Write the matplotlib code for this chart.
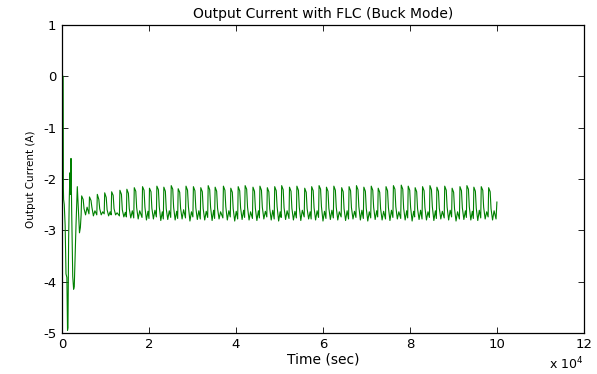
import numpy as np
import matplotlib
matplotlib.use('Agg')
import matplotlib.pyplot as plt

# start-up transient (time in units of 1e4 sec, current in A)
t_start = [0.025, 0.027, 0.03, 0.035, 0.05, 0.07, 0.09, 0.11, 0.125, 0.135, 0.15, 0.165,
           0.18, 0.19, 0.205, 0.22, 0.245, 0.265, 0.28, 0.30, 0.32, 0.35, 0.37, 0.40, 0.42]
i_start = [0.0, -1.1, -2.2, -2.4, -2.5, -2.9, -3.85, -3.92, -4.95, -4.9, -3.2, -2.4,
           -1.88, -2.3, -1.6, -2.6, -3.9, -4.15, -4.1, -3.5, -2.9, -2.15, -2.5, -3.05, -2.95]

# oscillation peaks (units of 1e4 sec)
peak_time = [0.45, 0.63, 0.81, 0.98, 1.14, 1.33, 1.49, 1.66, 1.85, 2.01,
             2.18, 2.34, 2.51, 2.67, 2.85, 3.02, 3.19, 3.36, 3.52, 3.71,
             3.88, 4.05, 4.21, 4.39, 4.55, 4.72, 4.89, 5.05, 5.23, 5.40,
             5.58, 5.74, 5.91, 6.08, 6.25, 6.43, 6.60, 6.77, 6.94, 7.11,
             7.27, 7.45, 7.62, 7.80, 7.96, 8.12, 8.29, 8.46, 8.62, 8.80,
             8.97, 9.15, 9.31, 9.47, 9.64, 9.81]
# offsets of the points inside one cycle around its peak (units of 1e4 sec)
cycle_dt = [-0.012, 0.0, 0.035, 0.055, 0.09, 0.125]
# per cycle: before rise, peak, top, shoulder, dip, bump
cycle_val = [
    [-2.70, -2.33, -2.40, -2.58, -2.70, -2.55],
    [-2.68, -2.35, -2.42, -2.55, -2.72, -2.62],
    [-2.70, -2.30, -2.40, -2.58, -2.70, -2.64],
    [-2.68, -2.27, -2.36, -2.60, -2.72, -2.64],
    [-2.70, -2.25, -2.32, -2.58, -2.70, -2.66],
    [-2.72, -2.22, -2.30, -2.60, -2.74, -2.65],
    [-2.74, -2.20, -2.28, -2.58, -2.76, -2.62],
    [-2.76, -2.17, -2.24, -2.56, -2.78, -2.62],
    [-2.75, -2.15, -2.22, -2.55, -2.80, -2.63],
    [-2.77, -2.18, -2.25, -2.57, -2.78, -2.61],
    [-2.74, -2.14, -2.21, -2.54, -2.81, -2.64],
    [-2.78, -2.16, -2.24, -2.58, -2.79, -2.62],
    [-2.75, -2.13, -2.20, -2.55, -2.80, -2.63],
    [-2.77, -2.19, -2.26, -2.57, -2.78, -2.60],
    [-2.76, -2.14, -2.22, -2.54, -2.82, -2.64],
    [-2.74, -2.15, -2.23, -2.56, -2.79, -2.62],
    [-2.78, -2.17, -2.25, -2.58, -2.80, -2.63],
    [-2.75, -2.13, -2.21, -2.55, -2.81, -2.61],
    [-2.77, -2.16, -2.24, -2.57, -2.78, -2.64],
    [-2.76, -2.14, -2.22, -2.54, -2.80, -2.62],
    [-2.74, -2.18, -2.26, -2.58, -2.82, -2.63],
    [-2.78, -2.15, -2.23, -2.56, -2.79, -2.61],
    [-2.75, -2.13, -2.20, -2.55, -2.80, -2.64],
    [-2.77, -2.16, -2.24, -2.57, -2.81, -2.62],
    [-2.76, -2.14, -2.22, -2.55, -2.78, -2.63],
    [-2.74, -2.17, -2.25, -2.58, -2.80, -2.61],
    [-2.78, -2.15, -2.23, -2.54, -2.82, -2.64],
    [-2.75, -2.13, -2.21, -2.56, -2.79, -2.62],
    [-2.77, -2.16, -2.24, -2.57, -2.80, -2.63],
    [-2.76, -2.14, -2.22, -2.55, -2.81, -2.61],
    [-2.74, -2.18, -2.26, -2.58, -2.78, -2.64],
    [-2.78, -2.15, -2.23, -2.56, -2.80, -2.62],
    [-2.75, -2.13, -2.20, -2.54, -2.82, -2.63],
    [-2.77, -2.16, -2.24, -2.57, -2.79, -2.61],
    [-2.76, -2.14, -2.22, -2.55, -2.80, -2.64],
    [-2.74, -2.17, -2.25, -2.58, -2.81, -2.62],
    [-2.78, -2.15, -2.23, -2.56, -2.78, -2.63],
    [-2.75, -2.13, -2.21, -2.54, -2.80, -2.61],
    [-2.77, -2.16, -2.24, -2.57, -2.82, -2.64],
    [-2.76, -2.14, -2.22, -2.55, -2.79, -2.62],
    [-2.74, -2.18, -2.26, -2.58, -2.80, -2.63],
    [-2.78, -2.15, -2.23, -2.56, -2.81, -2.61],
    [-2.75, -2.13, -2.20, -2.54, -2.78, -2.64],
    [-2.77, -2.12, -2.20, -2.57, -2.80, -2.62],
    [-2.76, -2.14, -2.22, -2.55, -2.82, -2.63],
    [-2.74, -2.17, -2.25, -2.58, -2.79, -2.61],
    [-2.78, -2.15, -2.23, -2.56, -2.80, -2.64],
    [-2.75, -2.13, -2.21, -2.54, -2.81, -2.62],
    [-2.77, -2.16, -2.24, -2.57, -2.78, -2.63],
    [-2.76, -2.14, -2.22, -2.55, -2.80, -2.61],
    [-2.74, -2.18, -2.26, -2.58, -2.82, -2.64],
    [-2.78, -2.15, -2.23, -2.56, -2.79, -2.62],
    [-2.75, -2.13, -2.20, -2.54, -2.80, -2.63],
    [-2.77, -2.16, -2.24, -2.57, -2.81, -2.61],
    [-2.76, -2.15, -2.22, -2.55, -2.78, -2.64],
    [-2.74, -2.17, -2.25, -2.58, -2.80, -2.62],
]
# tail of the record
t_end = [9.98, 10.0]
i_end = [-2.78, -2.45]

x_ticks = [0, 2, 4, 6, 8, 10, 12]
y_ticks = [-5, -4, -3, -2, -1, 0, 1]

# assemble the signal
t = list(t_start)
cur = list(i_start)
for tp, row in zip(peak_time, cycle_val):
    for dt, v in zip(cycle_dt, row):
        t.append(tp + dt)
        cur.append(v)
t += t_end
cur += i_end
t = np.array(t) * 1e4
cur = np.array(cur)

plt.rcParams['font.family'] = 'DejaVu Sans'

fig = plt.figure(figsize=(5.97, 3.74), dpi=100)
ax = fig.add_axes([0.104, 0.110, 0.874, 0.823])

ax.plot(t, cur, color=(0, 0.5, 0), lw=0.8)

ax.set_xlim(0, 12e4)
ax.set_ylim(-5, 1)
ax.set_xticks([v * 1e4 for v in x_ticks])
ax.set_xticklabels([str(v) for v in x_ticks])
ax.set_yticks(y_ticks)
ax.set_yticklabels([str(v) for v in y_ticks])

ax.tick_params(which='both', direction='in', top=True, right=True,
               length=4, width=0.6, labelsize=9.5, pad=4)
for s in ax.spines.values():
    s.set_linewidth(0.9)

ax.set_title('Output Current with FLC (Buck Mode)', fontsize=10, pad=5)
ax.set_xlabel('Time (sec)', fontsize=10, labelpad=1)
ax.set_ylabel('Output Current (A)', fontsize=7.5, labelpad=5)
ax.text(1.0, -0.075, r'x 10$^{4}$', transform=ax.transAxes, ha='right', va='top',
        fontsize=9)

fig.savefig('out.png', dpi=100)
